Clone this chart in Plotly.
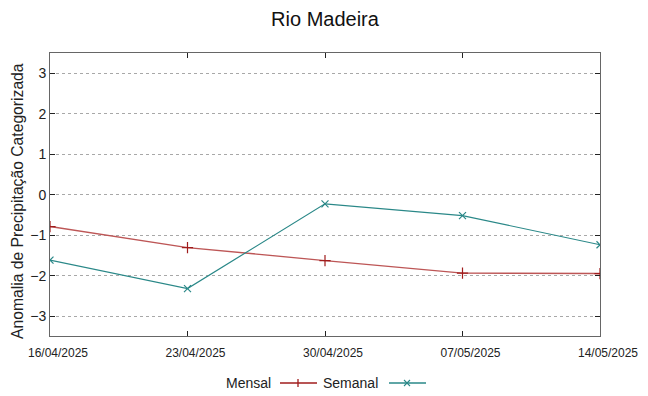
import plotly.graph_objects as go

dates = ["16/04/2025", "23/04/2025", "30/04/2025", "07/05/2025", "14/05/2025"]
mensal = [-0.78, -1.30, -1.62, -1.93, -1.94]
semanal = [-1.61, -2.31, -0.22, -0.51, -1.23]
y_ticks = [-3, -2, -1, 0, 1, 2, 3]

C_MENSAL = "#bd5656"
C_MENSAL_MK = "#a01c1c"
C_SEMANAL = "#2a8888"
FONT = "Liberation Sans, Arial, sans-serif"

W, H = 648, 396
L, R, T, B = 50, 48, 53, 60
PW, PH = W - L - R, H - T - B

fig = go.Figure()
fig.add_trace(go.Scatter(
    x=dates, y=mensal, mode="lines+markers", name="Mensal",
    line=dict(color=C_MENSAL, width=1.4),
    marker=dict(symbol="cross-thin", size=8, line=dict(color=C_MENSAL_MK, width=1.2)),
))
fig.add_trace(go.Scatter(
    x=dates, y=semanal, mode="lines+markers", name="Semanal",
    line=dict(color=C_SEMANAL, width=1.2),
    marker=dict(symbol="x-thin", size=7, line=dict(color=C_SEMANAL, width=1.2)),
))

def px2paper(px, py):
    return (px - L) / PW, (H - B - py) / PH

shapes = []
annotations = []
legend_items = [("Mensal", C_MENSAL_MK, 273, 280, 317, 298, "+"),
                ("Semanal", C_SEMANAL, 380, 389, 426, 407, "x")]
ly = 383
for name, col, tx, x0, x1, mx, sym in legend_items:
    ax, ay = px2paper(tx, ly)
    annotations.append(dict(text=name, x=ax, y=ay, xref="paper", yref="paper",
                            xanchor="right", yanchor="middle", showarrow=False,
                            font=dict(size=14, color="#222", family=FONT)))
    sx0, sy = px2paper(x0, ly)
    sx1, _ = px2paper(x1, ly)
    shapes.append(dict(type="line", xref="paper", yref="paper", x0=sx0, x1=sx1,
                       y0=sy, y1=sy, line=dict(color=col, width=1.3)))
    if sym == "+":
        a0, b0 = px2paper(mx, ly - 4)
        a1, b1 = px2paper(mx, ly + 4)
        shapes.append(dict(type="line", xref="paper", yref="paper", x0=a0, x1=a1,
                           y0=b0, y1=b1, line=dict(color=col, width=1.3)))
    else:
        for d in (1, -1):
            a0, b0 = px2paper(mx - 3, ly - 3 * d)
            a1, b1 = px2paper(mx + 3, ly + 3 * d)
            shapes.append(dict(type="line", xref="paper", yref="paper", x0=a0, x1=a1,
                               y0=b0, y1=b1, line=dict(color=col, width=1.1)))

# y axis title, placed like the gnuplot original
tx, ty = px2paper(18, 201)
annotations.append(dict(text="Anomalia de Precipitação Categorizada", x=tx, y=ty,
                        xref="paper", yref="paper", xanchor="center", yanchor="middle",
                        textangle=-90, showarrow=False,
                        font=dict(size=15.7, color="#222", family=FONT)))

fig.update_layout(
    width=W, height=H,
    margin=dict(l=L, r=R, t=T, b=B, autoexpand=False),
    paper_bgcolor="white", plot_bgcolor="white",
    showlegend=False,
    title=dict(text="Rio Madeira", x=0.5, xanchor="center", xref="paper",
               y=1 - 19 / H, yanchor="middle",
               font=dict(size=20, color="#111", family=FONT)),
    font=dict(family=FONT, color="#222"),
    shapes=shapes, annotations=annotations,
    xaxis=dict(
        type="category", range=[0, len(dates) - 1], automargin=False,
        showgrid=False, zeroline=False,
        showline=True, linecolor="#666", linewidth=1, mirror="ticks",
        ticks="inside", ticklen=5, tickcolor="#222",
        tickfont=dict(size=12, color="#222"),
        ticklabelshift=8, ticklabelstandoff=6,
    ),
    yaxis=dict(
        range=[-3.48, 3.5], tickvals=y_ticks, automargin=False,
        showgrid=True, gridcolor="#a8a8a8", griddash="dot", gridwidth=1,
        zeroline=False,
        showline=True, linecolor="#666", linewidth=1, mirror="ticks",
        ticks="inside", ticklen=5, tickcolor="#222",
        tickfont=dict(size=14, color="#222"),
    ),
)

fig.write_html("out.html", config={"displayModeBar": False},
               post_script="document.body.style.margin='0';")
